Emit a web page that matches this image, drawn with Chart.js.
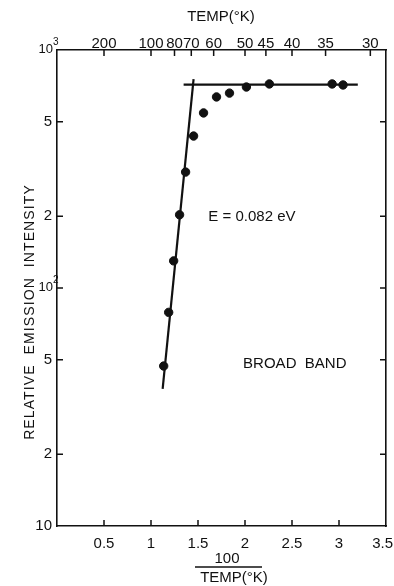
<!DOCTYPE html>
<html>
<head>
<meta charset="utf-8">
<script src="https://cdn.jsdelivr.net/npm/chart.js@4.4.1/dist/chart.umd.min.js"></script>
<style>
  html, body { margin:0; padding:0; background:#fff; }
</style>
</head>
<body>
<canvas id="c" width="394" height="586"></canvas>
<script>
// ── dati ──
const invTemp   = [1.135, 1.188, 1.241, 1.304, 1.368, 1.453, 1.559, 1.697, 1.835, 2.015, 2.259, 2.927, 3.043];
const intensity = [47, 79, 130, 203, 307, 435, 544, 635, 659, 699, 720, 720, 713];
const steepX = [1.124, 1.453];
const steepY = [37.7, 755];
const flatX  = [1.347, 3.20];
const flatY  = [716, 716];
const bottomTicks = [0.5, 1, 1.5, 2, 2.5, 3, 3.5];
const topTemps    = [200, 100, 80, 70, 60, 50, 45, 40, 35, 30];
const yTicks      = [10, 20, 50, 100, 200, 500, 1000];
const yLabels     = ['10', '2', '5', '10', '2', '5', '10'];
const yExp        = ['', '', '', '2', '', '', '3'];

const FONT = "'Liberation Sans', Arial, sans-serif";
const INK = '#111';

const pts = (xs, ys) => xs.map((x, i) => ({ x, y: ys[i] }));
const noPad = s => { s.paddingLeft = s.paddingRight = s.paddingTop = s.paddingBottom = 0; };

// tacche verso l'interno, etichette x/y, titoli
const extras = {
  id: 'extras',
  afterDraw(chart) {
    const { ctx, chartArea: a, scales } = chart;
    ctx.save();
    ctx.strokeStyle = INK;
    ctx.lineWidth = 1.5;
    const T = 6;
    ctx.beginPath();
    bottomTicks.slice(0, -1).forEach(v => {
      const x = scales.x.getPixelForValue(v);
      ctx.moveTo(x, a.bottom); ctx.lineTo(x, a.bottom - T);
    });
    topTemps.forEach(t => {
      const x = scales.x2.getPixelForValue(100 / t);
      ctx.moveTo(x, a.top); ctx.lineTo(x, a.top + T);
    });
    yTicks.slice(1, -1).forEach(v => {
      const y = scales.y.getPixelForValue(v);
      ctx.moveTo(a.left, y); ctx.lineTo(a.left + T, y);
      ctx.moveTo(a.right, y); ctx.lineTo(a.right - T, y);
    });
    ctx.stroke();

    ctx.fillStyle = INK;
    ctx.textBaseline = 'middle';

    // etichette x in basso (l'ultima non deve uscire dal bordo)
    ctx.font = '15px ' + FONT;
    bottomTicks.forEach((v, i) => {
      const x = scales.x.getPixelForValue(v);
      const last = i === bottomTicks.length - 1;
      ctx.textAlign = last ? 'right' : 'center';
      ctx.fillText(String(v), last ? 393 : x, a.bottom + 18);
    });

    // etichette y
    yTicks.forEach((v, i) => {
      const y = scales.y.getPixelForValue(v);
      ctx.textAlign = 'right';
      if (yExp[i]) {
        ctx.font = '13px ' + FONT;
        ctx.fillText(yLabels[i], a.left - 4, y - 1);
        ctx.font = '10px ' + FONT;
        ctx.textAlign = 'left';
        ctx.fillText(yExp[i], a.left - 4, y - 8);
      } else {
        ctx.font = '15px ' + FONT;
        ctx.fillText(yLabels[i], a.left - 5, y);
      }
    });

    ctx.textAlign = 'center';
    ctx.font = '15px ' + FONT;
    ctx.fillText('TEMP(°K)', 221, 17);

    // titolo asse x come frazione
    ctx.fillText('100', 227, 559);
    ctx.beginPath();
    ctx.moveTo(195, 567); ctx.lineTo(262, 567);
    ctx.stroke();
    ctx.fillText('TEMP(°K)', 234, 578);

    // titolo asse y
    ctx.save();
    ctx.translate(30, 312);
    ctx.rotate(-Math.PI / 2);
    ctx.font = '14px ' + FONT;
    ctx.letterSpacing = '1.1px';
    ctx.fillText('RELATIVE  EMISSION  INTENSITY', 0, 0);
    ctx.restore();

    // annotazioni
    ctx.textAlign = 'left';
    ctx.font = '15px ' + FONT;
    ctx.fillText('E = 0.082 eV', scales.x.getPixelForValue(1.61), scales.y.getPixelForValue(199));
    ctx.fillText('BROAD  BAND', scales.x.getPixelForValue(1.98), scales.y.getPixelForValue(48));
    ctx.restore();
  }
};

const tickFont = { family: FONT, size: 15 };
const border = { display: true, color: INK, width: 1.6 };

new Chart(document.getElementById('c'), {
  type: 'scatter',
  data: {
    datasets: [
      { data: pts(invTemp, intensity), backgroundColor: INK, borderColor: INK, pointRadius: 4.2 },
      { data: pts(steepX, steepY), showLine: true, borderColor: INK, borderWidth: 2.2, pointRadius: 0 },
      { data: pts(flatX, flatY), showLine: true, borderColor: INK, borderWidth: 2.2, pointRadius: 0 }
    ]
  },
  options: {
    responsive: false,
    animation: false,
    layout: { padding: 0 },
    plugins: { legend: { display: false }, tooltip: { enabled: false } },
    scales: {
      x: {
        type: 'linear', position: 'bottom', min: 0, max: 3.5,
        afterBuildTicks: s => { s.ticks = bottomTicks.map(v => ({ value: v })); },
        afterFit: s => { s.height = 60; noPad(s); },
        ticks: { display: false },
        grid: { drawOnChartArea: false, drawTicks: false },
        border
      },
      x2: {
        type: 'linear', position: 'top', min: 0, max: 3.5,
        afterBuildTicks: s => { s.ticks = topTemps.map(t => ({ value: 100 / t })); },
        afterFit: s => { s.height = 50; noPad(s); },
        ticks: { font: tickFont, color: INK, padding: -3, maxRotation: 0, autoSkip: false,
                 callback: v => String(Math.round(100 / v)) },
        grid: { drawOnChartArea: false, drawTicks: false },
        border
      },
      y: {
        type: 'logarithmic', position: 'left', min: 10, max: 1000,
        afterBuildTicks: s => { s.ticks = yTicks.map(v => ({ value: v })); },
        afterFit: s => { s.width = 57; noPad(s); },
        ticks: { display: false },
        grid: { drawOnChartArea: false, drawTicks: false },
        border
      },
      y2: {
        type: 'logarithmic', position: 'right', min: 10, max: 1000,
        afterFit: s => { s.width = 8; noPad(s); },
        ticks: { display: false },
        grid: { drawOnChartArea: false, drawTicks: false },
        border
      }
    }
  },
  plugins: [extras]
});
</script>
</body>
</html>
